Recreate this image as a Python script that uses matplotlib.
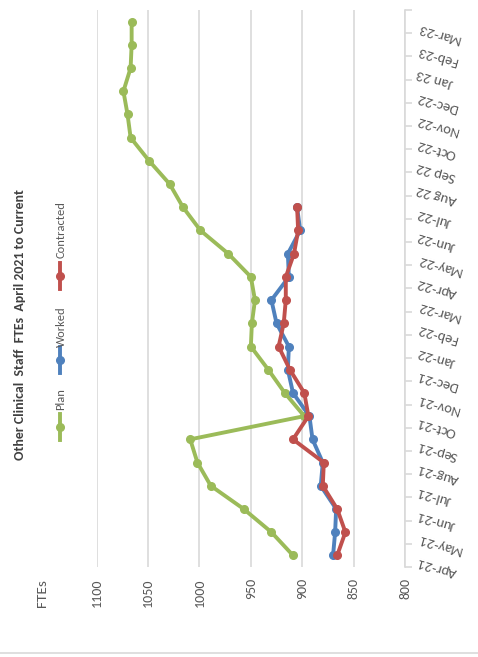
import matplotlib
matplotlib.use('Agg')
import matplotlib.pyplot as plt
from matplotlib import font_manager
from matplotlib.lines import Line2D
import numpy as np

months = ['Apr-21', 'May-21', 'Jun-21', 'Jul-21', 'Aug-21', 'Sep-21', 'Oct-21', 'Nov-21',
          'Dec-21', 'Jan-22', 'Feb-22', 'Mar-22', 'Apr-22', 'May-22', 'Jun-22', 'Jul-22',
          'Aug 22', 'Sep 22', 'Oct-22', 'Nov-22', 'Dec-22', 'Jan 23', 'Feb-23', 'Mar-23']

plan = [909, 930, 957, 989, 1002, 1009, 898, 917, 933, 950, 949, 946,
        950, 972, 999, 1016, 1029, 1049, 1067, 1070, 1074, 1067, 1066, 1066]
worked = [870, 868, 867, 882, 880, 890, 893, 909, 914, 913, 925, 930,
          913, 914, 902, 905]
contracted = [866, 858, 866, 880, 879, 909, 894, 898, 912, 923, 918, 916,
              916, 908, 904, 905]

xticks = [1100, 1050, 1000, 950, 900, 850, 800]

green = '#9BBB59'
blue = '#4F81BD'
red = '#C0504D'
grey = '#595959'
light = '#d9d9d9'

# narrow sans for the Calibri look, whichever is installed first
avail = set(f.name for f in font_manager.fontManager.ttflist)
fn = 'DejaVu Sans'
for cand in ['Carlito', 'Roboto Condensed', 'Asap Condensed', 'Archivo Narrow']:
	if cand in avail:
		fn = cand
		break
plt.rcParams['font.family'] = [fn, 'DejaVu Sans']

fig = plt.figure(figsize=(4.78, 6.57), dpi=100)
ax = fig.add_axes([0.2023, 0.137, 0.645, 0.8478])

pos = np.arange(len(months))
series = [(plan, green, 'Plan'), (worked, blue, 'Worked'), (contracted, red, 'Contracted')]
for vals, col, name in series:
	ax.plot(vals, pos[:len(vals)], color=col, lw=2.8, marker='o', ms=5.5,
		solid_capstyle='round', label=name)

ax.set_xlim(1100, 800)
ax.set_ylim(-0.5, len(months) - 0.5)
ax.set_xticks(xticks)
ax.set_xticklabels([str(v) for v in xticks], rotation=90, color=grey, fontsize=10)
ax.tick_params(axis='x', length=0, pad=8)
ax.grid(axis='x', color=light, lw=1.2)
ax.set_axisbelow(True)

for s in ['top', 'left', 'bottom']:
	ax.spines[s].set_visible(False)
ax.spines['right'].set_color(light)
ax.spines['right'].set_linewidth(1.2)

# month axis sits on the right, ticks between categories
ax.yaxis.tick_right()
ax.set_yticks(pos)
ax.set_yticklabels(months, color=grey, fontsize=10.5)
ax.set_yticks(np.arange(-0.5, len(months), 1), minor=True)
ax.tick_params(axis='y', which='major', length=0, pad=10)
ax.tick_params(axis='y', which='minor', length=5, color=light, width=1.2)
for lab in ax.get_yticklabels():
	lab.set_rotation(164)
	lab.set_rotation_mode('anchor')
	lab.set_ha('right')
	lab.set_va('bottom')

fig.text(20/478, 1 - 325/657, 'Other Clinical  Staff  FTEs  April 2021 to Current',
	rotation=90, ha='center', va='center', fontsize=10, fontweight='bold', color='#404040')
fig.text(42/478, 1 - 593/657, 'FTEs', rotation=90, ha='center', va='center',
	fontsize=11, color=grey)

# legend drawn vertically beside the title
leg = [(green, 'Plan', 427, 410), (blue, 'Worked', 360, 347), (red, 'Contracted', 276, 258)]
for col, name, ym, yt in leg:
	x0 = 60/478
	fig.add_artist(Line2D([x0, x0], [1 - (ym + 13)/657, 1 - (ym - 13)/657],
		color=col, lw=2.8, transform=fig.transFigure))
	fig.add_artist(Line2D([x0], [1 - ym/657], color=col, marker='o', ms=5.5,
		transform=fig.transFigure))
	fig.text(x0 + 1/478, 1 - yt/657, name, rotation=90, ha='center', va='bottom',
		fontsize=9, color=grey)

fig.add_artist(Line2D([0, 1], [4/657, 4/657], color=light, lw=1.2, transform=fig.transFigure))

plt.savefig('out.png', dpi=100)
plt.close()
